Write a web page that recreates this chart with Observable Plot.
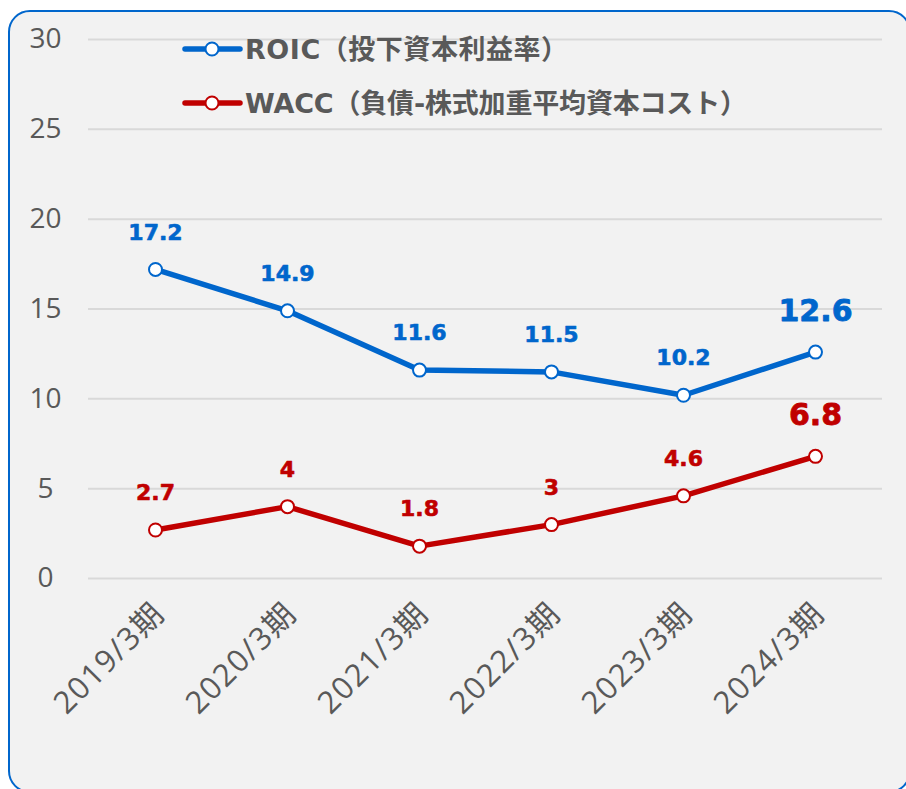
<!DOCTYPE html>
<html>
<head>
<meta charset="utf-8">
<script src="https://cdn.jsdelivr.net/npm/d3@7"></script>
<script src="https://cdn.jsdelivr.net/npm/@observablehq/plot@0.6"></script>
<style>
  html, body { margin: 0; padding: 0; background: #ffffff; overflow: hidden; }
  #wrap { position: relative; width: 906px; height: 789px; overflow: hidden; }
  #frame { position: absolute; left: 8px; top: 10px; width: 903px; height: 783px;
           box-sizing: border-box; border: 2px solid #0066cc; border-radius: 22px; background: #f2f2f2; }
  #chart { position: absolute; left: 0; top: 0; }
  #legend { position: absolute; left: 0; top: 0; width: 906px; height: 140px; pointer-events: none; }
</style>
</head>
<body>
<div id="wrap">
  <div id="frame"></div>
  <div id="chart"></div>
  <svg id="legend" width="906" height="140"></svg>
</div>
<script>
const periods = ["2019/3期", "2020/3期", "2021/3期", "2022/3期", "2023/3期", "2024/3期"];
const roic = [17.2, 14.9, 11.6, 11.5, 10.2, 12.6];
const wacc = [2.7, 4, 1.8, 3, 4.6, 6.8];
const seriesNames = ["ROIC（投下資本利益率）", "WACC（負債-株式加重平均資本コスト）"];
const seriesColors = ["#0066cc", "#c00000"];
const yTicks = [0, 5, 10, 15, 20, 25, 30];

const rows = [];
[roic, wacc].forEach((vals, s) => {
  vals.forEach((v, i) => rows.push({period: periods[i], value: v, series: seriesNames[s], last: i === periods.length - 1}));
});

const axisFont = "'Open Sans', 'Noto Sans CJK JP', sans-serif";
const labelFont = "'DejaVu Sans', 'Noto Sans CJK JP', sans-serif";

const chart = Plot.plot({
  width: 906,
  height: 789,
  marginLeft: 88,
  marginRight: 24,
  marginTop: 39,
  marginBottom: 211,
  style: {background: "transparent", fontFamily: axisFont, color: "#595959"},
  x: {type: "point", domain: periods, padding: 0.5},
  y: {domain: [0, 30]},
  color: {domain: seriesNames, range: seriesColors},
  marks: [
    Plot.gridY(yTicks, {stroke: "#d9d9d9", strokeOpacity: 1, strokeWidth: 2}),
    Plot.axisY(yTicks, {tickSize: 0, tickPadding: 43, textAnchor: "middle", fontSize: 28, fill: "#595959", label: null}),
    Plot.axisX({tickSize: 0, tickPadding: 30, tickRotate: -45, fontSize: 31, dx: 4, fill: "#595959", label: null, className: "xlab"}),
    Plot.line(rows, {x: "period", y: "value", z: "series", stroke: "series", strokeWidth: 5.5}),
    Plot.dot(rows, {x: "period", y: "value", stroke: "series", fill: "white", r: 6.5, strokeWidth: 2}),
    Plot.text(rows.filter(d => !d.last), {x: "period", y: "value", text: d => String(d.value), fill: "series",
      stroke: "series", strokeWidth: 0.6,
      dy: -37, fontSize: 22, fontWeight: "bold", fontFamily: labelFont}),
    Plot.text(rows.filter(d => d.last), {x: "period", y: "value", text: d => String(d.value), fill: "series",
      stroke: "series", strokeWidth: 0.8,
      dy: -41, fontSize: 30, fontWeight: "bold", fontFamily: labelFont})
  ]
});
d3.select(chart).selectAll(".xlab text").attr("letter-spacing", "1.5px");
document.getElementById("chart").appendChild(chart);

// Legend
const leg = d3.select("#legend");
const legY = [49, 103];
const legLen = [323, 502];
seriesNames.forEach((name, i) => {
  const g = leg.append("g");
  g.append("line").attr("x1", 185).attr("x2", 240).attr("y1", legY[i]).attr("y2", legY[i])
    .attr("stroke", seriesColors[i]).attr("stroke-width", 5.5).attr("stroke-linecap", "round");
  g.append("circle").attr("cx", 212).attr("cy", legY[i]).attr("r", 6.5)
    .attr("fill", "white").attr("stroke", seriesColors[i]).attr("stroke-width", 2);
  g.append("text").attr("x", 245).attr("y", legY[i]).attr("dy", "0.36em")
    .attr("font-family", labelFont).attr("font-weight", "bold").attr("font-size", 27)
    .attr("textLength", legLen[i]).attr("lengthAdjust", "spacing")
    .attr("fill", "#595959").text(name);
});
</script>
</body>
</html>
